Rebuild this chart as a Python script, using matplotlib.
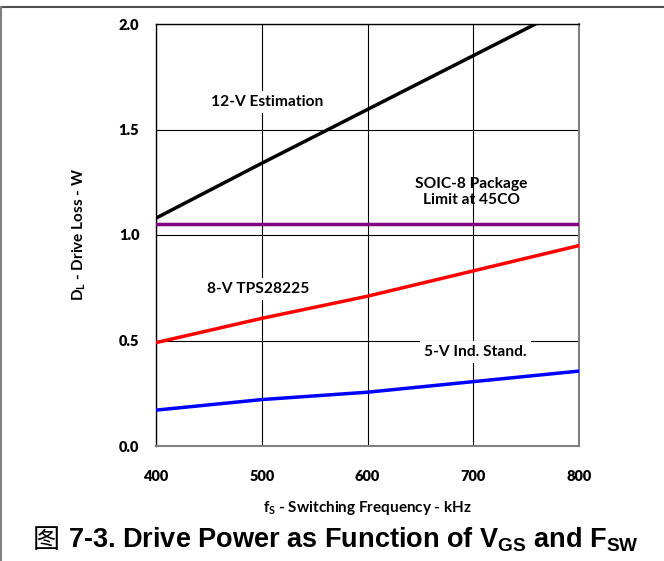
import matplotlib
matplotlib.use("Agg")
import matplotlib.pyplot as plt
from matplotlib.lines import Line2D

plt.rcParams['mathtext.fontset'] = 'custom'
plt.rcParams['mathtext.rm'] = 'Lato:bold'
plt.rcParams['mathtext.it'] = 'Lato:bold'
plt.rcParams['mathtext.bf'] = 'Lato:bold'
plt.rcParams['mathtext.sf'] = 'Liberation Sans:bold'

freq = [400, 500, 600, 700, 800]
est_12v = [1.08, 1.34, 1.595, 1.85, 2.105]
pkg_limit = [1.05, 1.05, 1.05, 1.05, 1.05]
tps_8v = [0.49, 0.605, 0.71, 0.83, 0.95]
ind_5v = [0.17, 0.22, 0.255, 0.305, 0.355]

x_ticks = [400, 500, 600, 700, 800]
y_ticks = [0.0, 0.5, 1.0, 1.5, 2.0]
y_tick_labels = ["0.0", "0.5", "1.0", "1.5", "2.0"]

fig = plt.figure(figsize=(6.64, 5.61), dpi=100)
ax = fig.add_axes([156/664, 1-446/561, (579-156)/664, (446-24)/561])

ax.set_xlim(400, 800)
ax.set_ylim(0, 2.0)
ax.set_xticks(x_ticks)
ax.set_yticks(y_ticks)
ax.set_xticklabels([str(v) for v in x_ticks], fontfamily='Lato', fontweight='heavy', fontsize=10.5)
ax.set_yticklabels(y_tick_labels, fontfamily='Lato', fontweight='heavy', fontsize=10.5)
ax.tick_params(axis='x', length=0, pad=17)
ax.tick_params(axis='y', length=0, pad=12)
ax.grid(True, color='black', linewidth=0.8, zorder=0)

lw = 2.5
ax.plot(freq, est_12v, color='black', lw=lw, zorder=3)
ax.plot(freq, pkg_limit, color='#800080', lw=lw, zorder=3)
ax.plot(freq, tps_8v, color='#ff0000', lw=lw, zorder=3)
ax.plot(freq, ind_5v, color='#0000ff', lw=lw, zorder=3)

for s in ['left', 'top']:
    ax.spines[s].set_color('black')
    ax.spines[s].set_linewidth(1.0)
for s in ['right', 'bottom']:
    ax.spines[s].set_color('#7f7f7f')
    ax.spines[s].set_linewidth(1.5)

tfont = dict(fontfamily='Lato', fontweight='bold', fontsize=11.2, ha='center', va='center')
bbox = dict(facecolor='white', edgecolor='none', pad=3)
ax.text(505, 1.63, "12-V Estimation", bbox=bbox, zorder=4, **tfont)
ax.text(698, 1.205, "SOIC-8 Package\nLimit at 45CO", zorder=4, linespacing=1.2, **tfont)
ax.text(497, 0.745, "8-V TPS28225", bbox=bbox, zorder=4, **tfont)
ax.text(702, 0.445, "5-V Ind. Stand.", bbox=bbox, zorder=4, **tfont)

ax.set_ylabel(r"D$_\mathregular{L}$ - Drive Loss - W", fontfamily='Lato', fontweight='bold', fontsize=11, labelpad=22)
ax.set_xlabel(r"f$_\mathregular{S}$ - Switching Frequency - kHz", fontfamily='Lato', fontweight='bold', fontsize=11, labelpad=12)

ty = 1 - 540/561
fig.text(33/664, ty, "图", ha='left', va='center', fontsize=19.5,
         fontfamily='Noto Sans CJK SC', fontweight='normal')
fig.text(68/664, ty, r"7-3. Drive Power as Function of V$_\mathsf{GS}$ and F$_\mathsf{SW}$",
         ha='left', va='center', fontsize=19.5, fontweight='bold',
         fontfamily='Liberation Sans')

fig.add_artist(Line2D([0, 663/664], [1-7/561, 1-7/561], color='#505050', lw=1.5, transform=fig.transFigure))
fig.add_artist(Line2D([0.5/664, 0.5/664], [0, 1-7/561], color='#808080', lw=1.5, transform=fig.transFigure))

fig.savefig("out.png", dpi=100)
